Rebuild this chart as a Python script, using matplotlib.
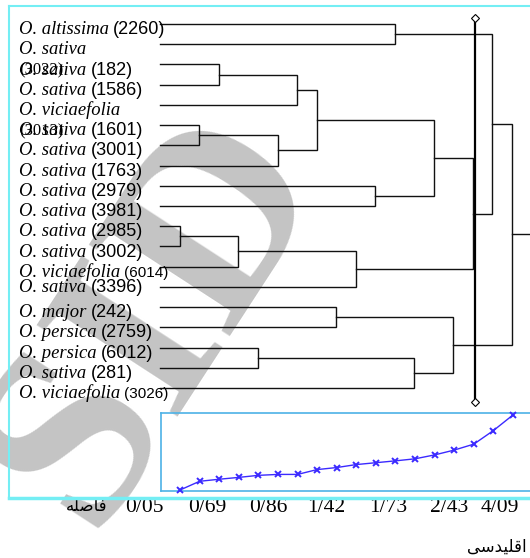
import numpy as np
import matplotlib.pyplot as plt
from matplotlib.lines import Line2D

# leaf labels, top to bottom
names = ["O. altissima", "O. sativa", "O. sativa", "O. sativa", "O. viciaefolia",
         "O. sativa", "O. sativa", "O. sativa", "O. sativa", "O. sativa",
         "O. sativa", "O. sativa", "O. viciaefolia", "O. sativa", "O. major",
         "O. persica", "O. persica", "O. sativa", "O. viciaefolia"]
codes = ["(2260)", "(3022)", "(182)", "(1586)", "(3013)",
         "(1601)", "(3001)", "(1763)", "(2979)", "(3981)",
         "(2985)", "(3002)", "(6014)", "(3396)", "(242)",
         "(2759)", "(6012)", "(281)", "(3026)"]
wrapped = [False, True, False, False, True] + [False] * 14
small = [False] * 12 + [True] + [False] * 5 + [True]

# agglomeration order (scipy style ids: leaves 0..18, clusters 19..)
merges = [(10, 11), (5, 6), (2, 3), (19, 12), (16, 17), (20, 7), (21, 4),
          (25, 24), (14, 15), (22, 13), (8, 9), (0, 1), (23, 18), (26, 29),
          (27, 31), (32, 28), (30, 34), (35, 33)]
# euclidean distance at each step
distances = [0.05, 0.52, 0.63, 0.73, 0.84, 0.89, 0.89, 1.15, 1.26, 1.42,
             1.52, 1.62, 1.73, 1.94, 2.20, 2.52, 3.25, 4.09]
tick_labels = ["0/05", "0/69", "0/86", "1/42", "1/73", "2/43", "4/09"]
cut_step = 16.13

W, H = 530, 558
X0, DX = 160.5, 19.5   # step 0 at pixel X0
Y0, DY = 24.0, 20.22   # leaf 0 at pixel Y0

fig = plt.figure(figsize=(W / 100, H / 100), dpi=100)
ax = fig.add_axes([0, 0, 1, 1])
ax.set_xlim(-X0 / DX, (W - X0) / DX)
ax.set_ylim((H - Y0) / DY, -Y0 / DY)
ax.axis("off")

def sx(px):
    return (px - X0) / DX

def sy(py):
    return (py - Y0) / DY

# watermark
ax.text(sx(155), sy(318), "SID", rotation=57, fontsize=185, color="#c4c4c4",
        family="Liberation Serif", weight="bold", ha="center", va="center",
        zorder=0)

# dendrogram
n = len(names)
pos = {i: (0.0, float(i)) for i in range(n)}
for k, (a, b) in enumerate(merges):
    h = k + 1
    xa, ya = pos[a]
    xb, yb = pos[b]
    ax.plot([xa, h, h, xb], [ya, ya, yb, yb], color="#111111", lw=1.0,
            solid_joinstyle="miter", zorder=2)
    pos[n + k] = (h, (ya + yb) / 2)
xr, yr = pos[n + len(merges) - 1]
ax.plot([xr, xr + 1], [yr, yr], color="#111111", lw=1.0, zorder=2)

# cut line
ax.plot([cut_step, cut_step], [sy(18), sy(402)], color="black", lw=1.6,
        marker="D", ms=4.5, mfc="white", mec="black", mew=0.8, zorder=3)

# labels
xl = sx(19)
shift = [0.0] * n
shift[13] = -0.25
for i in range(n):
    yb = i + 0.5 + shift[i]
    t = ax.text(xl, yb, names[i], family="Liberation Serif", style="italic",
                fontsize=13.4, va="baseline", ha="left", zorder=4)
    if wrapped[i]:
        ax.text(xl, yb + 1.0, codes[i], family="Liberation Serif",
                fontsize=12, va="baseline", ha="left", zorder=4)
    else:
        ax.annotate(codes[i], xy=(1, yb), xycoords=(t, "data"),
                    xytext=(3, 0), textcoords="offset points",
                    family="Liberation Sans", fontsize=11 if small[i] else 13,
                    va="baseline", ha="left", zorder=4)

# frame
cyan = "#74eef4"
fig.add_artist(Line2D([9 / W, 1], [1 - 6 / H, 1 - 6 / H], color=cyan, lw=1.5))
fig.add_artist(Line2D([9 / W, 9 / W], [1 - 6 / H, 1 - 498 / H], color=cyan, lw=1.5))
fig.add_artist(Line2D([9 / W, 1], [1 - 498 / H, 1 - 498 / H], color=cyan, lw=2.5))

# distance curve inset
ins = fig.add_axes([161 / W, 1 - 491 / H, (531 - 161) / W, 78 / H])
s = (513 - 180) / 17
ins.set_xlim(1 - (180 - 161) / s, 18 + (531 - 513) / s)
per = (4.09 - 0.05) / 77
ins.set_ylim(0.05 - 1 * per, 4.09 + 2 * per)
steps = np.arange(1, len(distances) + 1)
ins.plot(steps, distances, color="#3b2aff", lw=1.0, marker="x", ms=5,
         mew=1.4, clip_on=False, zorder=5)
ins.set_xticks([])
ins.set_yticks([])
for sp in ins.spines.values():
    sp.set_color("#4db2e6")
    sp.set_linewidth(1.2)
ins.spines["right"].set_visible(False)
ins.patch.set_alpha(0)

# distance tick labels
tick_px = [144, 207, 268, 326, 388, 449, 500]
for px, lab in zip(tick_px, tick_labels):
    ax.text(sx(px), sy(507), lab, family="Liberation Serif", fontsize=15.5,
            ha="center", va="center", zorder=4)

# Persian captions (pre-shaped presentation forms)
ax.text(sx(108), sy(506), "\uFEEA\uFEE0\uFEBB\uFE8E\uFED3", family="DejaVu Sans",
        fontsize=12, ha="right", va="center", zorder=4)
ax.text(sx(527), sy(547), "\uFEF0\uFEB3\uFEAA\uFEF4\uFEE0\uFED7\uFE8D",
        family="DejaVu Sans", fontsize=12, ha="right", va="center", zorder=4)

fig.savefig("out.png", dpi=100)
